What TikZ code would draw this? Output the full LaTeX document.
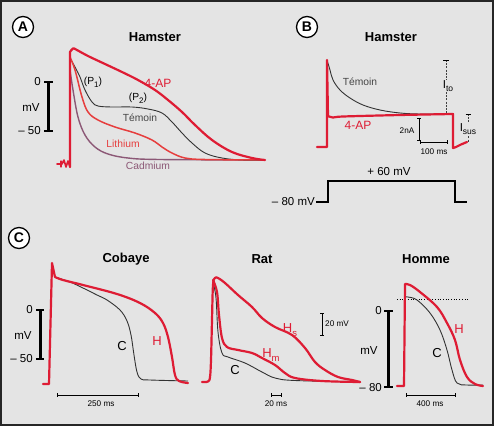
\documentclass[tikz,border=0pt]{standalone}
\usepackage{fontspec}
\setmainfont{Liberation Sans}
\definecolor{bgc}{RGB}{228,228,228}
\definecolor{apred}{RGB}{222,28,52}
\definecolor{lired}{RGB}{230,62,62}
\definecolor{cdm}{RGB}{140,88,118}
\definecolor{tgray}{RGB}{70,70,70}
\newcommand{\mysub}[2][8.5]{\raisebox{-0.5ex}{\fontsize{#1}{#1}\selectfont #2}}
\begin{document}
\begin{tikzpicture}[x=1pt,y=-1pt,
  rtr/.style={draw=apred, line width=2.2pt, line join=round, line cap=round},
  litr/.style={draw=lired, line width=1.5pt, line join=round},
  cdtr/.style={draw=cdm, line width=1.4pt, line join=round},
  btr/.style={draw=black!80, line width=0.9pt, line join=round},
  thickbar/.style={line width=3pt},
  tickln/.style={line width=1.2pt},
  sb/.style={line width=0.8pt},
  dashln/.style={draw=black!75, line width=0.6pt, dash pattern=on 2pt off 1.2pt},
  title/.style={font=\bfseries\fontsize{13}{15}\selectfont, inner sep=0pt},
  axl/.style={font=\fontsize{11.5}{13}\selectfont, inner sep=1pt},
  lbl/.style={font=\fontsize{10.3}{12}\selectfont, inner sep=0pt},
  big/.style={font=\fontsize{13}{15}\selectfont, inner sep=0pt},
  tiny/.style={font=\fontsize{8.2}{10}\selectfont, inner sep=0pt},
  circ/.style={circle, draw, line width=1.3pt, fill=white, minimum size=21pt, inner sep=0pt, font=\bfseries\fontsize{14}{14}\selectfont}]
\useasboundingbox (0,0) rectangle (494,426);
\fill[bgc] (0,0) rectangle (494,426);
\draw[black!85, line width=2pt] (1,1) rectangle (493,425);

% ---------------- Panel A ----------------
\node[circ] (cA) at (23,27) {A};
\node[title] (tA) at (155,37) {Hamster};
\coordinate (sA1) at (48,82); \coordinate (sA2) at (48,131);
\draw[thickbar] (sA1) -- (sA2);
\draw[tickln] (44,82) -- (53,82) (44,131) -- (53,131);
\node[axl, anchor=east] (zA) at (42,82) {0};
\node[axl] (mvA) at (31,108) {mV};
\node[axl, anchor=east] (m50A) at (42,131) {– 50};

\draw[cdtr] plot[smooth, tension=0.6] coordinates {(70,70) (73,90) (78,117) (85,135) (95,147) (108,154) (128,158) (160,159.5) (265,160)};
\draw[btr] plot[smooth, tension=0.6] coordinates {(70,58) (75,67) (80,77) (85,90) (92,102) (98,106) (112,107) (132,107) (148,109) (162,113) (172,122) (182,133) (192,143) (205,153) (222,158) (242,160) (265,160)};
\draw[litr] plot[smooth, tension=0.6] coordinates {(70,57) (75,70) (82,97) (88,112) (98,120) (115,127) (135,133) (152,140) (162,147) (172,153) (185,158) (205,159.5) (265,160)};
\draw[rtr, line width=1.6pt] (57,164) -- (62,164) -- (64,160) -- (66,167) -- (68,161) -- (70,167);
\draw[rtr, line width=1.2pt] (61,161) -- (61,167);
\draw[rtr] (70,167) -- (70,52) -- plot[smooth, tension=0.6] coordinates {(70,52) (73,48.5) (76,49.5) (88,56) (105,64) (122,72) (138,80) (155,90) (168,100) (182,112) (195,125) (212,140) (232,152) (252,158) (265,160)};

\node[lbl] (p1) at (93,82) {(P\mysub[8]{1})};
\node[lbl] (p2) at (138,98) {(P\mysub[8]{2})};
\node[lbl, text=apred, font=\fontsize{12}{14}\selectfont] (apA) at (158,83) {4-AP};
\node[lbl, text=tgray] (temA) at (140,118) {Témoin};
\node[lbl, text=lired] (lith) at (123,144) {Lithium};
\node[lbl, text=cdm] (cad) at (148,166) {Cadmium};

% ---------------- Panel B ----------------
\node[circ] (cB) at (307,27) {B};
\node[title] (tB) at (391,37) {Hamster};
\draw[btr] plot[smooth, tension=0.6] coordinates {(327,60) (330,70) (333,80) (340,90) (350,98) (363,105) (380,110) (400,113) (420,114) (447,114)};
\draw[rtr] (317,147) -- (327,147) -- (327,60) -- (328,116) -- plot[smooth, tension=0.5] coordinates {(328,116) (333,117.5) (343,116.5) (400,115) (453,114)} -- (453,148) -- plot[smooth, tension=0.6] coordinates {(453,148) (456,147) (461,144.5) (467,142)};

\coordinate (ito1) at (446,60); \coordinate (ito2) at (446,114);
\draw[dashln] (ito1) -- (ito2);
\draw[sb] (443,60) -- (449,60);
\node[lbl, fill=bgc, inner sep=0.8pt, font=\fontsize{11.5}{13}\selectfont] (ito) at (448,86) {I\mysub{to}};
\coordinate (isus1) at (468,114); \coordinate (isus2) at (468,142);
\draw[dashln] (isus1) -- (isus2);
\draw[sb] (465.5,114) -- (470.5,114);
\node[lbl, fill=bgc, inner sep=0.8pt, font=\fontsize{11.5}{13}\selectfont] (isus) at (468,129) {I\mysub{sus}};

\draw[sb] (419,118) -- (419,140);
\draw[sb] (417,118) -- (421,118) (417,140) -- (421,140);
\node[tiny] (nA) at (407,131) {2nA};
\draw[sb] (420,142) -- (447,142);
\draw[sb] (420,140) -- (420,144) (447,140) -- (447,144);
\node[tiny] (ms100) at (434,152) {100 ms};
\node[lbl, text=apred, font=\fontsize{12}{14}\selectfont] (apB) at (358,125) {4-AP};
\node[lbl, text=tgray] (temB) at (360,82) {Témoin};

\node[axl, anchor=east, inner sep=0pt] (m80) at (315,202) {– 80 mV};
\node[axl, inner sep=0pt] (p60) at (389,172) {+ 60 mV};
\coordinate (v1) at (316,202); \coordinate (v2) at (467,202);
\draw[line width=1.5pt] (v1) -- (328,202) -- (328,181) -- (455,181) -- (455,202) -- (v2);

% ---------------- Panel C ----------------
\node[circ] (cC) at (19,238) {C};
\node[title] (tC1) at (126,259) {Cobaye};
\node[title] (tC2) at (262,259) {Rat};
\node[title] (tC3) at (426,259) {Homme};

% Cobaye
\draw[thickbar] (40,310) -- (40,359);
\draw[tickln] (36,310) -- (44,310) (36,359) -- (44,359);
\node[axl, anchor=east] (zC) at (34,310) {0};
\node[axl] (mvC) at (23,336) {mV};
\node[axl, anchor=east] (m50C) at (34,359) {– 50};
\draw[btr] plot[smooth, tension=0.6] coordinates {(55,277) (70,282) (83,288) (97,295) (107,300) (120,310) (127,321) (131,335) (134,355) (137,372) (141,379) (150,380) (188,381)};
\draw[rtr] (43,384) -- (49,384) -- (52,263) -- (55,277) -- plot[smooth, tension=0.6] coordinates {(55,277) (63,280) (83,285) (117,294) (140,303) (155,313) (163,323) (168,337) (172,357) (175,375) (179,381) (188,383)};
\node[big] (cL1) at (122,346) {C};
\node[big, text=apred] (hL1) at (157,341) {H};
\draw[sb] (57,395) -- (138,395);
\draw[sb] (57,393) -- (57,397) (138,393) -- (138,397);
\node[tiny] (ms250) at (101,404) {250 ms};

% Rat
\draw[btr] plot[smooth, tension=0.6] coordinates {(213,282) (216,298) (218,332) (222,353) (228,357) (245,363) (262,372) (275,378) (295,380.5) (360,382)};
\draw[rtr] plot[smooth, tension=0.6] coordinates {(213,280) (217,292) (219,315) (222,338) (227,347) (238,350) (252,353) (262,358) (275,365) (285,373) (295,378) (322,381) (360,382)};
\draw[rtr] plot[smooth, tension=0.6] coordinates {(202,382) (208,381.5) (210,377) (211,360) (212,320) (213,285) (215,278) (218,278) (225,283) (238,295) (252,307) (262,318) (275,327) (292,335) (305,348) (315,362) (325,370) (338,377) (352,380) (360,382)};
\node[big, text=apred] (hs) at (290,330) {H\mysub[9.5]{s}};
\node[big, text=apred] (hm) at (271,355) {H\mysub[9.5]{m}};
\node[big] (cL2) at (235,370) {C};
\draw[sb] (322,313) -- (322,335);
\draw[sb] (320,313) -- (324,313) (320,335) -- (324,335);
\node[tiny, anchor=west] (mv20) at (325,324) {20 mV};
\draw[sb] (271,395) -- (281,395);
\draw[sb] (271,393) -- (271,397) (281,393) -- (281,397);
\node[tiny] (ms20) at (276,404) {20 ms};

% Homme
\draw[thickbar] (388,311) -- (388,387);
\draw[tickln] (384,311) -- (393,311) (384,387) -- (393,387);
\node[axl, anchor=east] (zH) at (383,311) {0};
\node[axl] (mvH) at (369,351) {mV};
\node[axl, anchor=east] (m80H) at (383,388) {– 80};
\draw[black, line width=0.7pt, dotted] (397,299) -- (468,299);
\draw[btr] plot[smooth, tension=0.6] coordinates {(405,297) (408,297) (417,300) (430,313) (440,330) (447,350) (452,370) (457,383) (467,385) (483,385)};
\draw[rtr] (397,386) -- (404,386) -- (405,284) -- plot[smooth, tension=0.6] coordinates {(405,284) (410,285) (420,292) (437,307) (447,323) (455,340) (460,360) (467,377) (475,384) (483,386)};
\node[big, text=apred] (hL3) at (459,329) {H};
\node[big] (cL3) at (437,353) {C};
\draw[sb] (406,395) -- (455,395);
\draw[sb] (406,393) -- (406,397) (455,393) -- (455,397);
\node[tiny] (ms400) at (430,404) {400 ms};
\end{tikzpicture}
\end{document}
